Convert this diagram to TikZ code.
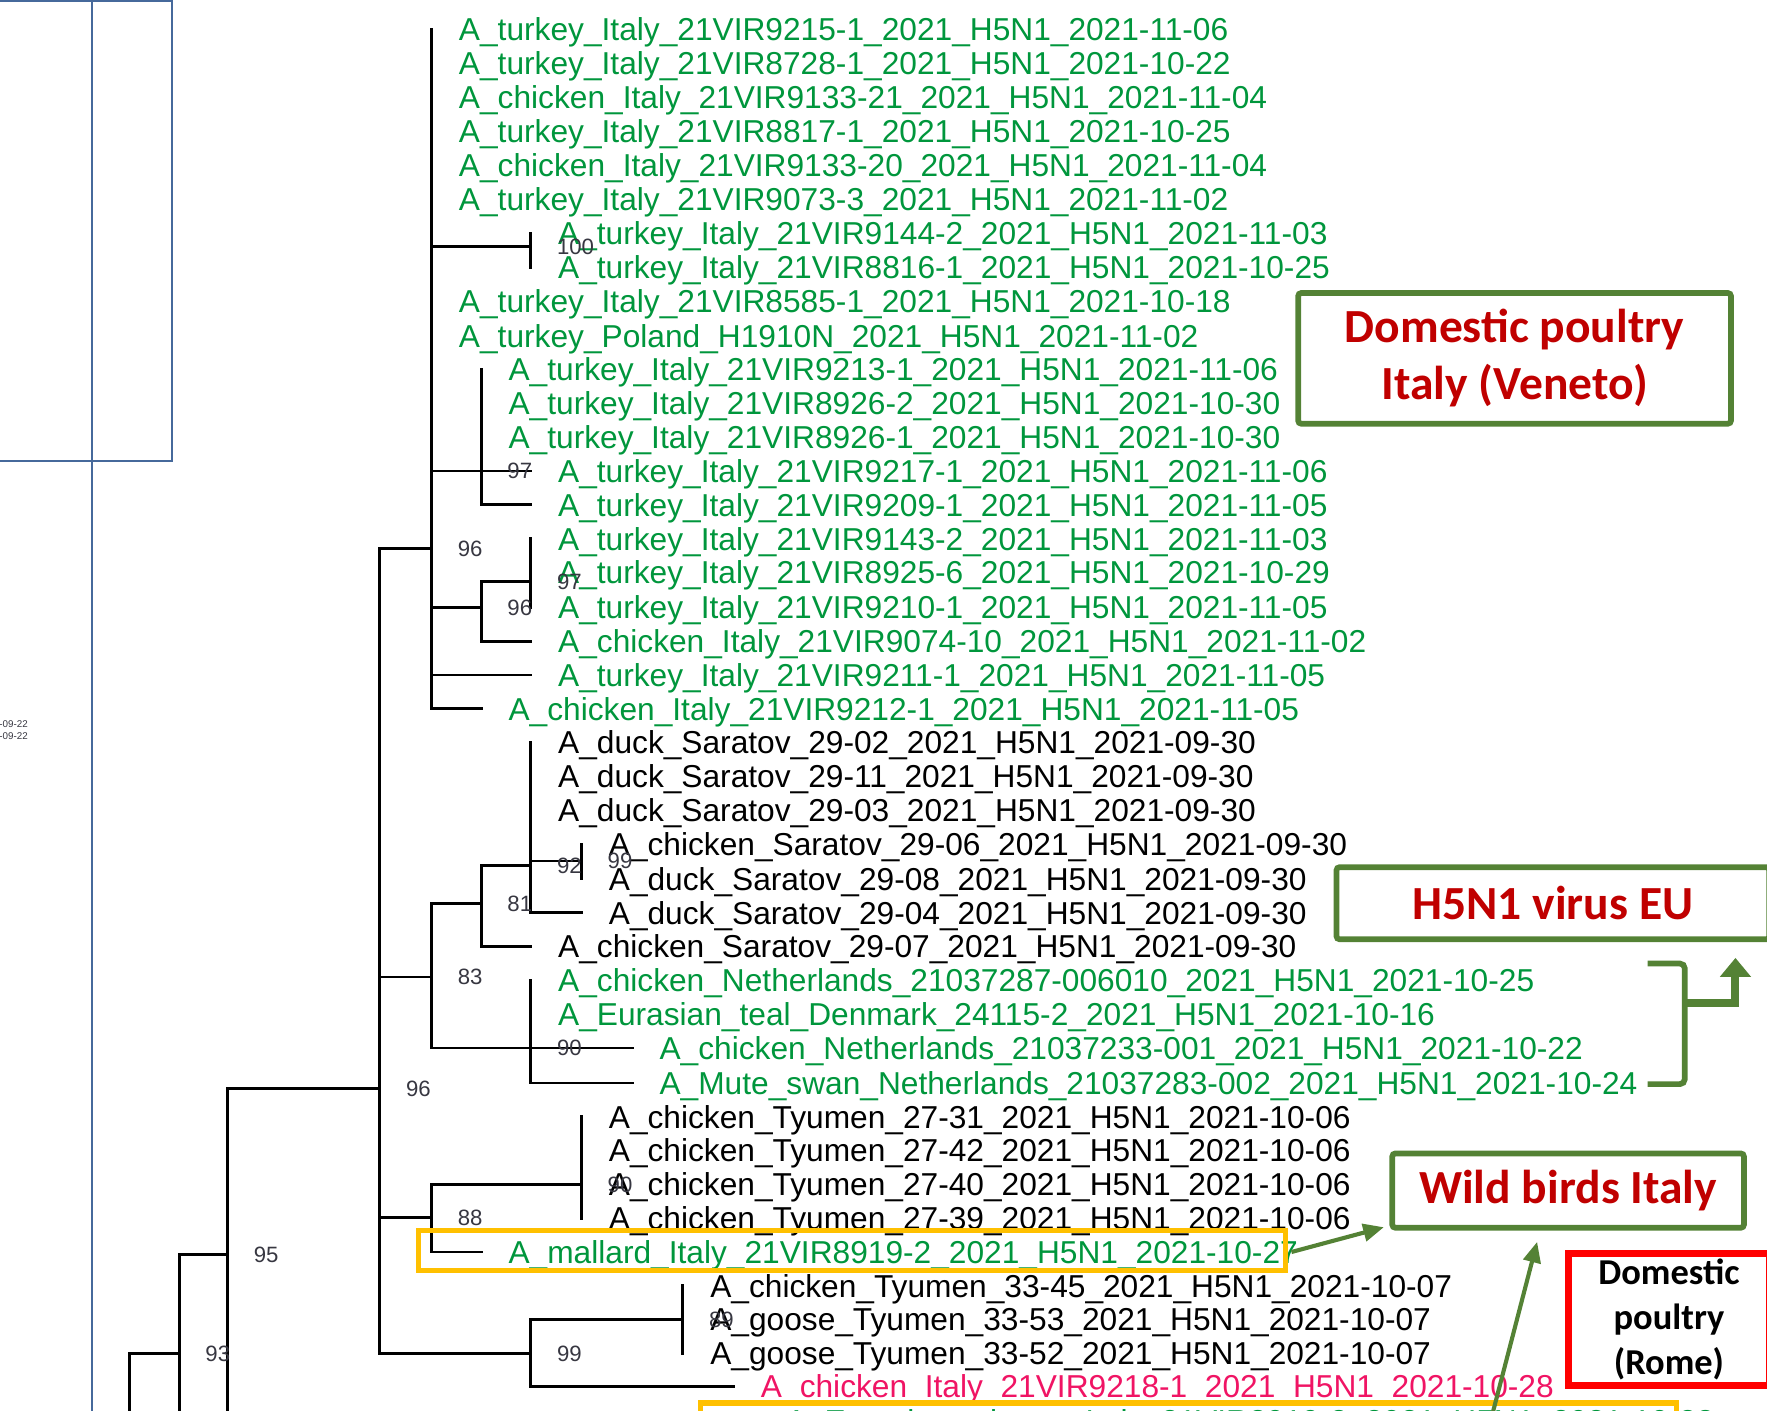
\documentclass[tikz,border=0pt]{standalone}
\usepackage{fontspec}
\usepackage{xcolor}
\usetikzlibrary{arrows.meta,positioning}
\newfontfamily\leaffont{Liberation Sans}
\newfontfamily\annotfont{Carlito}
\definecolor{leafgreen}{RGB}{0,150,60}
\definecolor{leafpink}{RGB}{240,20,100}
\definecolor{boxgreen}{RGB}{84,130,53}
\definecolor{boxred}{RGB}{192,0,0}
\definecolor{hilite}{RGB}{255,192,0}
\definecolor{frameblue}{RGB}{70,105,155}
\definecolor{bootgray}{RGB}{55,55,65}
\tikzset{
    branch/.style={line width=1.8pt, line cap=rect},
    leaf/.style={anchor=west, inner xsep=0.6cm, inner ysep=0pt, text height=14.3pt, text depth=0pt,
        font=\leaffont\fontsize{20}{24}\selectfont},
    boot/.style={inner sep=0pt, text height=10pt, text depth=0pt, text=bootgray,
        font=\leaffont\fontsize{14}{16}\selectfont},
    smalltxt/.style={inner sep=0pt, text=bootgray, font=\leaffont\fontsize{6.2}{7}\selectfont},
    gbox/.style={draw=boxgreen, line width=3.6pt, rounded corners=2pt, align=center, text=boxred,
        font=\annotfont\bfseries\fontsize{30}{36}\selectfont},
    rbox/.style={draw=red, line width=4.2pt, align=center,
        font=\annotfont\bfseries\fontsize{23}{28.5}\selectfont},
    hibox/.style={draw=hilite, line width=3.2pt},
    blueline/.style={draw=frameblue, line width=1.2pt},
    garrow/.style={draw=boxgreen, line width=2.6pt, -{Triangle[length=13pt,width=11pt]}},
    fatarrow/.style={draw=boxgreen, line width=5pt, -{Triangle[length=12pt,width=19pt]}},
    bracket/.style={draw=boxgreen, line width=3.6pt, rounded corners=3pt}
}

\begin{document}
\begin{tikzpicture}[x=0.025cm, y=-0.025cm]
    \useasboundingbox (0,0) rectangle (1568,1252);
    \clip (0,0) rectangle (1568,1252);

    % Left frame (cut off)
    \draw[blueline] (-20,1) rectangle (153,409);
    \draw[blueline] (82,0) -- (82,1270);
    \node[smalltxt, anchor=east] (c1) at (25,643) {-09-22};
    \node[smalltxt, anchor=east] (c2) at (25,653) {-09-22};

    % Internal nodes of the tree
    \coordinate (rA) at (383,487);
    \coordinate (n100) at (471,219);
    \coordinate (n97a) at (427,418);
    \coordinate (n96b) at (427,539);
    \coordinate (n97b) at (471,516);
    \coordinate (n96c) at (337,966);
    \coordinate (n83) at (383,867);
    \coordinate (n81) at (427,802);
    \coordinate (n92) at (471,768);
    \coordinate (n99a) at (516,764);
    \coordinate (n90a) at (471,930);
    \coordinate (n88) at (383,1080);
    \coordinate (n90b) at (516,1051);
    \coordinate (n99b) at (471,1201);
    \coordinate (n89) at (606,1171);
    \coordinate (n95) at (202,1113);
    \coordinate (n93) at (159,1201);
    \coordinate (n0) at (115,1320);

    % Leaves - Italy (Veneto)
    \node[leaf, text=leafgreen] (l1) at (383,26) {A\_turkey\_Italy\_21VIR9215-1\_2021\_H5N1\_2021-11-06};
    \node[leaf, text=leafgreen] (l2) at (383,56) {A\_turkey\_Italy\_21VIR8728-1\_2021\_H5N1\_2021-10-22};
    \node[leaf, text=leafgreen] (l3) at (383,86) {A\_chicken\_Italy\_21VIR9133-21\_2021\_H5N1\_2021-11-04};
    \node[leaf, text=leafgreen] (l4) at (383,116) {A\_turkey\_Italy\_21VIR8817-1\_2021\_H5N1\_2021-10-25};
    \node[leaf, text=leafgreen] (l5) at (383,147) {A\_chicken\_Italy\_21VIR9133-20\_2021\_H5N1\_2021-11-04};
    \node[leaf, text=leafgreen] (l6) at (383,177) {A\_turkey\_Italy\_21VIR9073-3\_2021\_H5N1\_2021-11-02};
    \node[leaf, text=leafgreen] (l7) at (471,207) {A\_turkey\_Italy\_21VIR9144-2\_2021\_H5N1\_2021-11-03};
    \node[leaf, text=leafgreen] (l8) at (471,237) {A\_turkey\_Italy\_21VIR8816-1\_2021\_H5N1\_2021-10-25};
    \node[leaf, text=leafgreen] (l9) at (383,267) {A\_turkey\_Italy\_21VIR8585-1\_2021\_H5N1\_2021-10-18};
    \node[leaf, text=leafgreen] (l10) at (383,298) {A\_turkey\_Poland\_H1910N\_2021\_H5N1\_2021-11-02};
    \node[leaf, text=leafgreen] (l11) at (427,328) {A\_turkey\_Italy\_21VIR9213-1\_2021\_H5N1\_2021-11-06};
    \node[leaf, text=leafgreen] (l12) at (427,358) {A\_turkey\_Italy\_21VIR8926-2\_2021\_H5N1\_2021-10-30};
    \node[leaf, text=leafgreen] (l13) at (427,388) {A\_turkey\_Italy\_21VIR8926-1\_2021\_H5N1\_2021-10-30};
    \node[leaf, text=leafgreen] (l14) at (471,418) {A\_turkey\_Italy\_21VIR9217-1\_2021\_H5N1\_2021-11-06};
    \node[leaf, text=leafgreen] (l15) at (471,448) {A\_turkey\_Italy\_21VIR9209-1\_2021\_H5N1\_2021-11-05};
    \node[leaf, text=leafgreen] (l16) at (471,478) {A\_turkey\_Italy\_21VIR9143-2\_2021\_H5N1\_2021-11-03};
    \node[leaf, text=leafgreen] (l17) at (471,508) {A\_turkey\_Italy\_21VIR8925-6\_2021\_H5N1\_2021-10-29};
    \node[leaf, text=leafgreen] (l18) at (471,539) {A\_turkey\_Italy\_21VIR9210-1\_2021\_H5N1\_2021-11-05};
    \node[leaf, text=leafgreen] (l19) at (471,569) {A\_chicken\_Italy\_21VIR9074-10\_2021\_H5N1\_2021-11-02};
    \node[leaf, text=leafgreen] (l20) at (471,599) {A\_turkey\_Italy\_21VIR9211-1\_2021\_H5N1\_2021-11-05};
    \node[leaf, text=leafgreen] (l21) at (427,629) {A\_chicken\_Italy\_21VIR9212-1\_2021\_H5N1\_2021-11-05};
    % Leaves - Saratov and Netherlands
    \node[leaf] (l22) at (471,659) {A\_duck\_Saratov\_29-02\_2021\_H5N1\_2021-09-30};
    \node[leaf] (l23) at (471,689) {A\_duck\_Saratov\_29-11\_2021\_H5N1\_2021-09-30};
    \node[leaf] (l24) at (471,719) {A\_duck\_Saratov\_29-03\_2021\_H5N1\_2021-09-30};
    \node[leaf] (l25) at (516,749) {A\_chicken\_Saratov\_29-06\_2021\_H5N1\_2021-09-30};
    \node[leaf] (l26) at (516,780) {A\_duck\_Saratov\_29-08\_2021\_H5N1\_2021-09-30};
    \node[leaf] (l27) at (516,810) {A\_duck\_Saratov\_29-04\_2021\_H5N1\_2021-09-30};
    \node[leaf] (l28) at (471,840) {A\_chicken\_Saratov\_29-07\_2021\_H5N1\_2021-09-30};
    \node[leaf, text=leafgreen] (l29) at (471,870) {A\_chicken\_Netherlands\_21037287-006010\_2021\_H5N1\_2021-10-25};
    \node[leaf, text=leafgreen] (l30) at (471,900) {A\_Eurasian\_teal\_Denmark\_24115-2\_2021\_H5N1\_2021-10-16};
    \node[leaf, text=leafgreen] (l31) at (561,930) {A\_chicken\_Netherlands\_21037233-001\_2021\_H5N1\_2021-10-22};
    \node[leaf, text=leafgreen] (l32) at (561,961) {A\_Mute\_swan\_Netherlands\_21037283-002\_2021\_H5N1\_2021-10-24};
    % Leaves - Tyumen and Italy
    \node[leaf] (l33) at (516,991) {A\_chicken\_Tyumen\_27-31\_2021\_H5N1\_2021-10-06};
    \node[leaf] (l34) at (516,1021) {A\_chicken\_Tyumen\_27-42\_2021\_H5N1\_2021-10-06};
    \node[leaf] (l35) at (516,1051) {A\_chicken\_Tyumen\_27-40\_2021\_H5N1\_2021-10-06};
    \node[leaf] (l36) at (516,1081) {A\_chicken\_Tyumen\_27-39\_2021\_H5N1\_2021-10-06};
    \node[leaf, text=leafgreen] (l37) at (427,1111) {A\_mallard\_Italy\_21VIR8919-2\_2021\_H5N1\_2021-10-27};
    \node[leaf] (l38) at (606,1141) {A\_chicken\_Tyumen\_33-45\_2021\_H5N1\_2021-10-07};
    \node[leaf] (l39) at (606,1171) {A\_goose\_Tyumen\_33-53\_2021\_H5N1\_2021-10-07};
    \node[leaf] (l40) at (606,1201) {A\_goose\_Tyumen\_33-52\_2021\_H5N1\_2021-10-07};
    \node[leaf, text=leafpink] (l41) at (651,1230) {A\_chicken\_Italy\_21VIR9218-1\_2021\_H5N1\_2021-10-28};
    \node[leaf, text=leafgreen] (l42) at (673,1261) {A\_Eurasian\_wigeon\_Italy\_21VIR8919-3\_2021\_H5N1\_2021-10-28};

    % Vertical lines
    \draw[branch] (rA |- l1.west) -- (rA |- l21.west);
    \draw[branch] (n100 |- l7.west) -- (n100 |- l8.west);
    \draw[branch] (n97a |- l11.west) -- (n97a |- l15.west);
    \draw[branch] (n97b |- l16.west) -- (n97b |- l18.west);
    \draw[branch] (n96b |- n97b) -- (n96b |- l19.west);
    \draw[branch] (n96c |- rA) -- (n96c |- n99b);
    \draw[branch] (n83 |- n81) -- (n83 |- n90a);
    \draw[branch] (n81 |- n92) -- (n81 |- l28.west);
    \draw[branch] (n92 |- l22.west) -- (n92 |- l27.west);
    \draw[branch] (n99a |- l25.west) -- (n99a |- l26.west);
    \draw[branch] (n90a |- l29.west) -- (n90a |- l32.west);
    \draw[branch] (n88 |- n90b) -- (n88 |- l37.west);
    \draw[branch] (n90b |- l33.west) -- (n90b |- l36.west);
    \draw[branch] (n99b |- n89) -- (n99b |- l41.west);
    \draw[branch] (n89 |- l38.west) -- (n89 |- l40.west);
    \draw[branch] (n95 |- n96c) -- (n95 |- n0);
    \draw[branch] (n93 |- n95) -- (n93 |- n0);
    \draw[branch] (n0 |- n93) -- (n0);

    % Horizontal lines
    \draw[branch] (rA |- n100) -- (n100);
    \draw[branch] (rA |- n97a) -- (n97a);
    \draw[branch] (n97a |- l14.west) -- (l14.west);
    \draw[branch] (n97a |- l15.west) -- (l15.west);
    \draw[branch] (rA |- n96b) -- (n96b);
    \draw[branch] (n96b |- n97b) -- (n97b);
    \draw[branch] (n96b |- l19.west) -- (l19.west);
    \draw[branch] (rA |- l20.west) -- (l20.west);
    \draw[branch] (rA |- l21.west) -- (l21.west);
    \draw[branch] (n96c |- rA) -- (rA);
    \draw[branch] (n96c |- n83) -- (n83);
    \draw[branch] (n83 |- n81) -- (n81);
    \draw[branch] (n81 |- n92) -- (n92);
    \draw[branch] (n92 |- n99a) -- (n99a);
    \draw[branch] (n92 |- l27.west) -- (l27.west);
    \draw[branch] (n81 |- l28.west) -- (l28.west);
    \draw[branch] (n83 |- n90a) -- (n90a);
    \draw[branch] (n90a |- l31.west) -- (l31.west);
    \draw[branch] (n90a |- l32.west) -- (l32.west);
    \draw[branch] (n96c |- n88) -- (n88);
    \draw[branch] (n88 |- n90b) -- (n90b);
    \draw[branch] (n88 |- l37.west) -- (l37.west);
    \draw[branch] (n96c |- n99b) -- (n99b);
    \draw[branch] (n99b |- n89) -- (n89);
    \draw[branch] (n99b |- l41.west) -- (l41.west);
    \draw[branch] (n95 |- n96c) -- (n96c);
    \draw[branch] (n93 |- n95) -- (n95);
    \draw[branch] (n0 |- n93) -- (n93);

    % Bootstrap values
    \node[boot, right=0.575cm of n100] (b100) {100};
    \node[boot, right=0.575cm of n97a] (b97a) {97};
    \node[boot, right=0.575cm of rA] (b96a) {96};
    \node[boot, right=0.575cm of n97b] (b97b) {97};
    \node[boot, right=0.575cm of n96b] (b96b) {96};
    \node[boot, right=0.575cm of n92] (b92) {92};
    \node[boot, right=0.575cm of n99a] (b99a) {99};
    \node[boot, right=0.575cm of n81] (b81) {81};
    \node[boot, right=0.575cm of n83] (b83) {83};
    \node[boot, right=0.575cm of n90a] (b90a) {90};
    \node[boot, right=0.575cm of n96c] (b96c) {96};
    \node[boot, right=0.575cm of n90b] (b90b) {90};
    \node[boot, right=0.575cm of n88] (b88) {88};
    \node[boot, right=0.575cm of n95] (b95) {95};
    \node[boot, right=0.575cm of n99b] (b99b) {99};
    \node[boot, right=0.575cm of n89] (b89) {89};
    \node[boot, right=0.575cm of n93] (b93) {93};

    % Highlight boxes
    \draw[hibox] (371,1092) rectangle (1141,1127);
    \draw[hibox] (622,1245) rectangle (1488,1300);

    % Annotation boxes
    \node[gbox, minimum width=9.6cm, minimum height=2.9cm] (veneto) at (1344,318) {Domestic poultry\\Italy (Veneto)};
    \node[gbox, minimum width=9.6cm, minimum height=1.6cm] (eubox) at (1378,801.5) {H5N1 virus EU};
    \node[gbox, minimum width=7.8cm, minimum height=1.65cm] (wild) at (1391.5,1056.5) {Wild birds Italy};
    \node[rbox, minimum width=4.45cm, minimum height=2.9cm] (rome) at (1481,1171) {Domestic\\poultry\\(Rome)};

    % Bracket and arrows
    \coordinate (brtop) at (1462,855);
    \coordinate (brbot) at (1462,962);
    \coordinate (brmid) at (1495,890);
    \coordinate (eutip) at (1540,850);
    \draw[bracket] (brtop) -- (brtop -| brmid) -- (brbot -| brmid) -- (brbot);
    \draw[fatarrow] (brmid) -| (eutip);
    \coordinate (mend) at (1146,1111);
    \coordinate (wtip) at (1228,1089);
    \draw[garrow] (mend) -- (wtip);
    \coordinate (rsrc) at (1310,1310);
    \coordinate (rtip) at (1364,1102);
    \draw[garrow] (rsrc) -- (rtip);
\end{tikzpicture}
\end{document}
